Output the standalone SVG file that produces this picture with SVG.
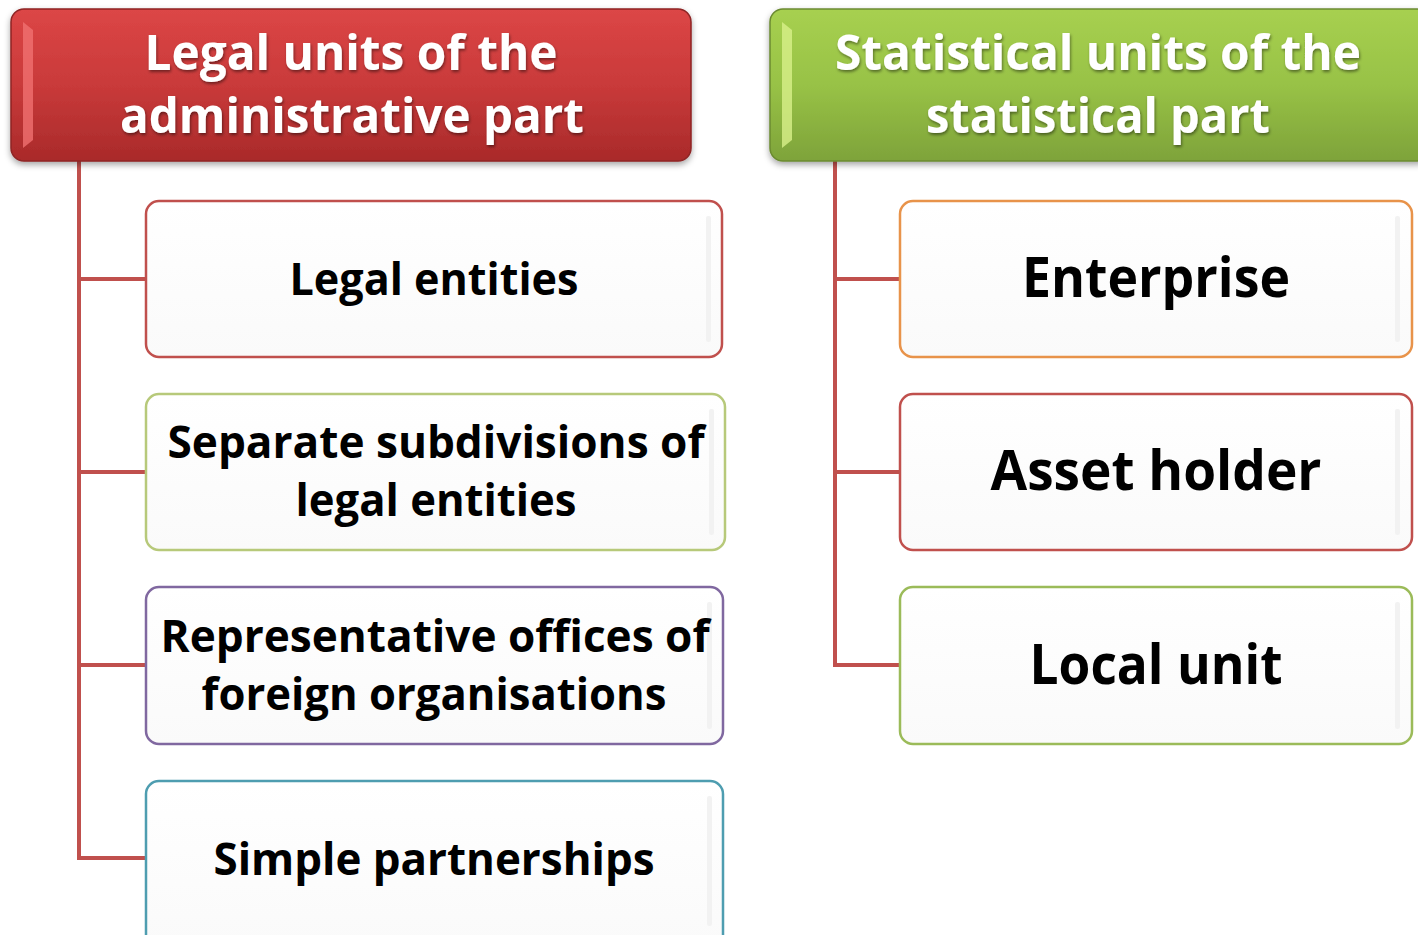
<svg xmlns="http://www.w3.org/2000/svg" width="1418" height="935" viewBox="0 0 1418 935">
  <defs>
    <linearGradient id="gRed" x1="0" y1="0" x2="0" y2="1">
      <stop offset="0" stop-color="#dc4646"/>
      <stop offset="0.5" stop-color="#c93a3a"/>
      <stop offset="1" stop-color="#a92a2a"/>
    </linearGradient>
    <linearGradient id="gGreen" x1="0" y1="0" x2="0" y2="1">
      <stop offset="0" stop-color="#a7d050"/>
      <stop offset="0.5" stop-color="#98c246"/>
      <stop offset="1" stop-color="#7ea33a"/>
    </linearGradient>
    <linearGradient id="gBox" x1="0" y1="0" x2="0" y2="1">
      <stop offset="0" stop-color="#ffffff"/>
      <stop offset="1" stop-color="#fafafa"/>
    </linearGradient>
    <filter id="shadow" x="-5%" y="-10%" width="110%" height="130%">
      <feDropShadow dx="0" dy="3" stdDeviation="3" flood-color="#000" flood-opacity="0.35"/>
    </filter>
    <filter id="tshadow" x="-5%" y="-20%" width="110%" height="150%">
      <feDropShadow dx="1" dy="2" stdDeviation="1.5" flood-color="#000" flood-opacity="0.45"/>
    </filter>
  </defs>
  <style>
    .hdr { font-family: "Open Sans", "Liberation Sans", sans-serif; font-weight: bold; fill: #ffffff; text-anchor: middle; font-size: 48px; }
    .lbl { font-family: "Open Sans", "Liberation Sans", sans-serif; font-weight: bold; fill: #000000; text-anchor: middle; font-size: 44px; }
    .big { font-size: 56px; }
    .box { fill: url(#gBox); stroke-width: 2.5; }
    .conn { stroke: #c0504d; stroke-width: 4; fill: none; }
    .hl { fill: #f2f2f2; }
  </style>
  <rect width="1418" height="935" fill="#ffffff"/>

  <g id="connectors">
    <path class="conn" d="M79,160 V860 M79,279 H147 M79,472 H147 M79,665 H147 M79,858 H147"/>
    <path class="conn" d="M835,160 V667 M835,279 H901 M835,472 H901 M835,665 H901"/>
  </g>

  <g id="header-left">
    <rect x="11" y="9" width="680" height="152" rx="13" fill="url(#gRed)" stroke="#8e2525" stroke-width="1.5" filter="url(#shadow)"/>
    <path d="M23,22 L33,30 V140 L23,148 Z" fill="#f07070" opacity="0.8"/>
    <g filter="url(#tshadow)">
      <text class="hdr" x="351" y="70" textLength="413" lengthAdjust="spacingAndGlyphs">Legal units of the</text>
      <text class="hdr" x="352" y="133" textLength="464" lengthAdjust="spacingAndGlyphs">administrative part</text>
    </g>
  </g>

  <g id="header-right">
    <rect x="770" y="9" width="660" height="152" rx="13" fill="url(#gGreen)" stroke="#6b8a30" stroke-width="1.5" filter="url(#shadow)"/>
    <path d="M782,22 L792,30 V140 L782,148 Z" fill="#d8f08a" opacity="0.8"/>
    <g filter="url(#tshadow)">
      <text class="hdr" x="1098" y="70" textLength="526" lengthAdjust="spacingAndGlyphs">Statistical units of the</text>
      <text class="hdr" x="1098" y="133" textLength="344" lengthAdjust="spacingAndGlyphs">statistical part</text>
    </g>
  </g>

  <g id="node-legal-entities">
    <rect class="box" x="146" y="201" width="576" height="156" rx="13" stroke="#c0504d"/>
    <rect class="hl" x="706" y="216" width="5" height="126" rx="2"/>
    <text class="lbl" x="434" y="295" textLength="289" lengthAdjust="spacingAndGlyphs">Legal entities</text>
  </g>

  <g id="node-separate-subdivisions">
    <rect class="box" x="146" y="394" width="579" height="156" rx="13" stroke="#b7c97a"/>
    <rect class="hl" x="709" y="409" width="5" height="126" rx="2"/>
    <text class="lbl" x="436" y="458" textLength="537" lengthAdjust="spacingAndGlyphs">Separate subdivisions of</text>
    <text class="lbl" x="436" y="516" textLength="281" lengthAdjust="spacingAndGlyphs">legal entities</text>
  </g>

  <g id="node-representative-offices">
    <rect class="box" x="146" y="587" width="577" height="157" rx="13" stroke="#8068a0"/>
    <rect class="hl" x="707" y="602" width="5" height="127" rx="2"/>
    <text class="lbl" x="435" y="652" textLength="549" lengthAdjust="spacingAndGlyphs">Representative offices of</text>
    <text class="lbl" x="434" y="710" textLength="465" lengthAdjust="spacingAndGlyphs">foreign organisations</text>
  </g>

  <g id="node-simple-partnerships">
    <rect class="box" x="146" y="781" width="577" height="170" rx="13" stroke="#4e9db0"/>
    <rect class="hl" x="707" y="796" width="5" height="130" rx="2"/>
    <text class="lbl" x="434" y="875" textLength="441" lengthAdjust="spacingAndGlyphs">Simple partnerships</text>
  </g>

  <g id="node-enterprise">
    <rect class="box" x="900" y="201" width="512" height="156" rx="13" stroke="#e8934a"/>
    <rect class="hl" x="1395" y="216" width="5" height="126" rx="2"/>
    <text class="lbl big" x="1156" y="297" textLength="268" lengthAdjust="spacingAndGlyphs">Enterprise</text>
  </g>

  <g id="node-asset-holder">
    <rect class="box" x="900" y="394" width="512" height="156" rx="13" stroke="#c0504d"/>
    <rect class="hl" x="1395" y="409" width="5" height="126" rx="2"/>
    <text class="lbl big" x="1156" y="490" textLength="331" lengthAdjust="spacingAndGlyphs">Asset holder</text>
  </g>

  <g id="node-local-unit">
    <rect class="box" x="900" y="587" width="512" height="157" rx="13" stroke="#9bbb59"/>
    <rect class="hl" x="1395" y="602" width="5" height="127" rx="2"/>
    <text class="lbl big" x="1156" y="684" textLength="253" lengthAdjust="spacingAndGlyphs">Local unit</text>
  </g>
</svg>
